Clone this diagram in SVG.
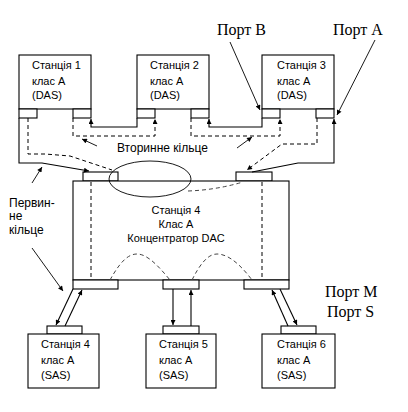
<svg xmlns="http://www.w3.org/2000/svg" width="408" height="412" viewBox="0 0 408 412">
<defs>
<marker id="ah" viewBox="0 0 10 10" refX="10" refY="5" markerWidth="6" markerHeight="5" markerUnits="userSpaceOnUse" orient="auto">
<path d="M0,0 L10,5 L0,10 z" fill="#000"/>
</marker>
</defs>
<style>
.box{fill:#fff;stroke:#000;stroke-width:1.1}
.ln{fill:none;stroke:#000;stroke-width:1.1}
.dl{fill:none;stroke:#000;stroke-width:1;stroke-dasharray:4,3}
.dg{fill:none;stroke:#444;stroke-width:1;stroke-dasharray:4,3}
.thin{fill:none;stroke:#000;stroke-width:0.9}
.t{font-family:"Liberation Sans",Arial,sans-serif;font-size:11px;fill:#000}
.l{font-family:"Liberation Sans",Arial,sans-serif;font-size:12px;fill:#000}
.p{font-family:"Liberation Serif","Times New Roman",serif;font-size:16px;fill:#000}
</style>
<rect width="408" height="412" fill="#fff"/>

<g id="station1">
<rect class="box" x="19" y="55" width="72" height="54"/>
<rect class="box" x="19" y="109" width="18" height="9"/>
<rect class="box" x="73" y="109" width="18" height="9"/>
<text class="t" x="32" y="69">Станція 1</text>
<text class="t" x="32" y="85">клас А</text>
<text class="t" x="32" y="99">(DAS)</text>
</g>
<g id="station2">
<rect class="box" x="137" y="55" width="72" height="54"/>
<rect class="box" x="137" y="109" width="18" height="9"/>
<rect class="box" x="191" y="109" width="18" height="9"/>
<text class="t" x="150" y="69">Станція 2</text>
<text class="t" x="150" y="85">клас А</text>
<text class="t" x="150" y="99">(DAS)</text>
</g>
<g id="station3">
<rect class="box" x="262" y="55" width="72" height="54"/>
<rect class="box" x="262" y="109" width="18" height="9"/>
<rect class="box" x="316" y="109" width="18" height="9"/>
<text class="t" x="277" y="69">Станція 3</text>
<text class="t" x="277" y="85">клас А</text>
<text class="t" x="277" y="99">(DAS)</text>
</g>
<g id="concentrator">
<rect class="box" x="83" y="172" width="35" height="9"/>
<rect class="box" x="236" y="172" width="36" height="9"/>
<rect class="box" x="73" y="181" width="216" height="99"/>
<rect class="box" x="73" y="280" width="45" height="9"/>
<rect class="box" x="163" y="280" width="36" height="9"/>
<rect class="box" x="244" y="280" width="45" height="9"/>
<path class="dl" d="M91,182 L91,280"/>
<path class="dl" d="M262,182 L262,280"/>
<path class="dg" d="M188,191 Q216,190 243,182"/>
<path class="dg" d="M110,280 C120,262 128,254 137,254 C148,254 160,268 170,280"/>
<path class="dg" d="M192,280 C200,264 208,254 217,254 C230,254 243,268 252,280"/>
<text class="t" x="176" y="214" text-anchor="middle">Станція 4</text>
<text class="t" x="176" y="228" text-anchor="middle">Клас А</text>
<text class="t" x="176" y="242" text-anchor="middle">Концентратор DAC</text>
</g>
<g id="station4">
<rect class="box" x="47" y="326" width="35" height="8"/>
<rect class="box" x="28" y="334" width="71" height="54"/>
<text class="t" x="41" y="348">Станція 4</text>
<text class="t" x="41" y="364">клас А</text>
<text class="t" x="41" y="379">(SAS)</text>
</g>
<g id="station5">
<rect class="box" x="163" y="326" width="36" height="8"/>
<rect class="box" x="146" y="334" width="70" height="54"/>
<text class="t" x="159" y="348">Станція 5</text>
<text class="t" x="159" y="364">клас А</text>
<text class="t" x="159" y="379">(SAS)</text>
</g>
<g id="station6">
<rect class="box" x="281" y="326" width="35" height="8"/>
<rect class="box" x="262" y="334" width="73" height="54"/>
<text class="t" x="277" y="348">Станція 6</text>
<text class="t" x="277" y="364">клас А</text>
<text class="t" x="277" y="379">(SAS)</text>
</g>

<g id="connectors">
<path class="ln" d="M137,118 L137,127 L91,127 L91,119" marker-end="url(#ah)"/>
<path class="dl" d="M73,118 L73,136 L155,136 L155,119" marker-end="url(#ah)"/>
<path class="ln" d="M262,118 L262,127 L209,127 L209,119" marker-end="url(#ah)"/>
<path class="dl" d="M191,118 L191,136 L280,136 L280,119" marker-end="url(#ah)"/>
<path class="ln" d="M252,172 L298,163 L334,163 L334,119" marker-end="url(#ah)"/>
<path class="dl" d="M317,118 L317,144 L282,144 L247,170" marker-end="url(#ah)"/>
<path class="ln" d="M19,118 L19,163 L42,163 L89,171" marker-end="url(#ah)"/>
<path class="dl" d="M28,118 L28,154 L45,154 L70,156 L112,170"/>
<ellipse class="thin" cx="150" cy="179" rx="41" ry="18" fill="none"/>
<path class="ln" d="M73,289 L56,325" marker-end="url(#ah)"/>
<path class="ln" d="M65,326 L82,290" marker-end="url(#ah)"/>
<path class="ln" d="M173,289 L173,325" marker-end="url(#ah)"/>
<path class="ln" d="M191,326 L191,290" marker-end="url(#ah)"/>
<path class="ln" d="M288,326 L272,290" marker-end="url(#ah)"/>
<path class="ln" d="M280,289 L297,325" marker-end="url(#ah)"/>
<path class="thin" d="M97,146 L82,139" marker-end="url(#ah)"/>
<path class="thin" d="M237,148 L252,137" marker-end="url(#ah)"/>
<path class="thin" d="M32,183 L42,167" marker-end="url(#ah)"/>
<path class="thin" d="M32,248 L63,291" marker-end="url(#ah)"/>
<path class="thin" d="M230,42 L260,110" marker-end="url(#ah)"/>
<path class="thin" d="M375,40 L337,115" marker-end="url(#ah)"/>
</g>

<g id="labels">
<text class="l" x="117" y="152">Вторинне кільце</text>
<text class="l" x="9" y="207">Первин-</text>
<text class="l" x="9" y="220">не</text>
<text class="l" x="9" y="234">кільце</text>
<text class="p" x="217" y="35">Порт B</text>
<text class="p" x="333" y="35">Порт A</text>
<text class="p" x="325" y="297">Порт M</text>
<text class="p" x="327" y="317">Порт S</text>
</g>
</svg>
